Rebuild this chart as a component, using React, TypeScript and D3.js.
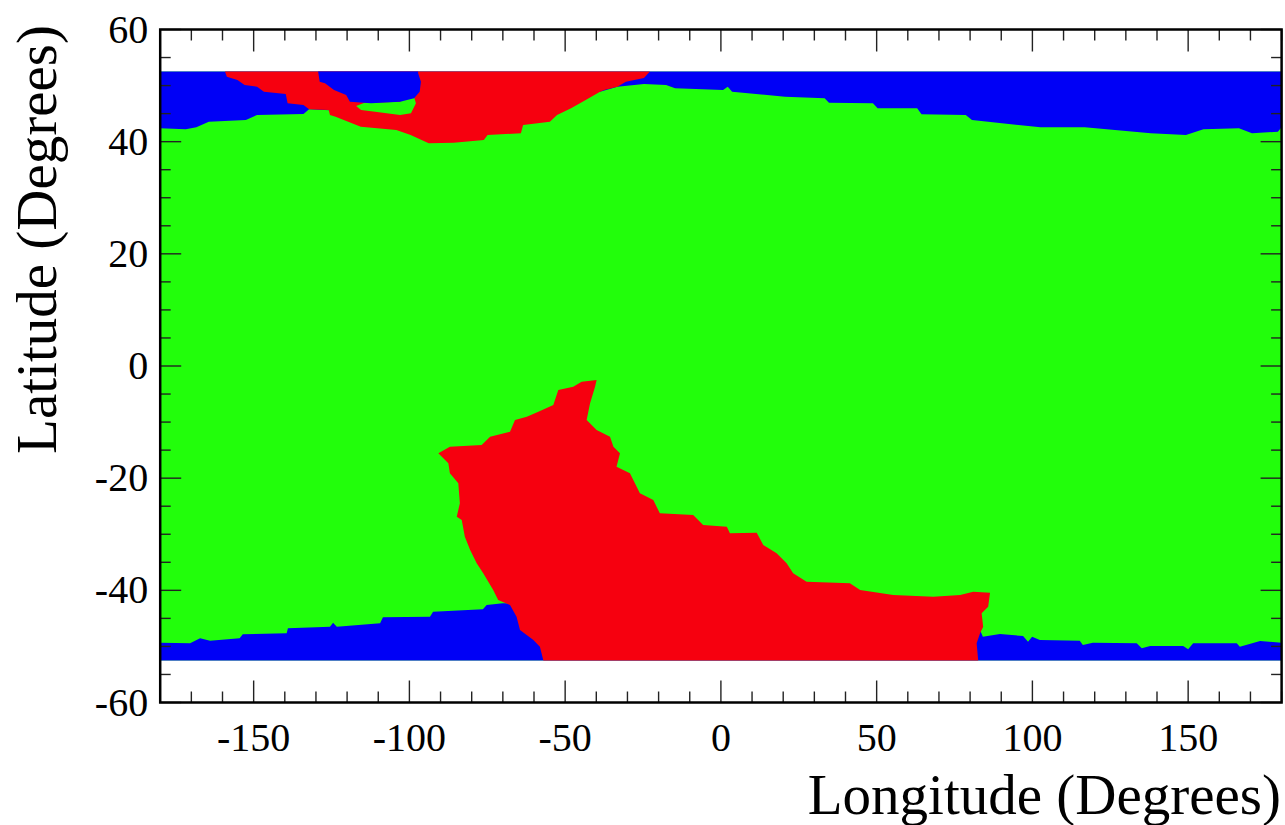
import React from "react";
import * as d3 from "d3";

type P = [number, number];

// Region boundaries (longitude, latitude in degrees)
const lonRange: P = [-180, 180];
const latRange: P = [-60, 60];
const bandLat: P = [-52.5, 52.5];

// lower edge of the northern blue band (blue above, green below)
const topBlueEdge: P[] = [
  [-180, 42.39], [-171.8, 42.21], [-168.4, 42.56], [-164.4, 43.56], [-152.5, 43.87],
  [-148.9, 44.76], [-134, 44.94], [-132.2, 45.77], [-125.5, 45.6], [-87, 47.4],
  [-38.8, 48.91], [-33.2, 49.8], [-24.7, 50.29], [-17.6, 50.11], [-14.7, 49.52],
  [0.7, 49.22], [2.2, 49.8], [3.6, 48.91], [20.6, 48.02], [33.3, 47.73],
  [34.7, 46.95], [48.8, 46.84], [50.3, 45.95], [63, 45.95], [64.4, 44.88],
  [78.6, 44.76], [80.6, 43.87], [95.5, 42.97], [102.6, 42.56], [116.8, 42.56],
  [138, 41.49], [149.3, 41.19], [154.9, 42.21], [166.3, 42.39], [170.5, 41.49],
  [178.8, 41.78], [180, 42.56],
];

// upper edge of the southern blue band (green above, blue below)
const bottomBlueEdge: P[] = [
  [-180, -49.34], [-170.4, -49.45], [-167.2, -48.56], [-164, -48.98], [-154.5, -48.56],
  [-153.5, -47.84], [-139.4, -47.66], [-139, -46.77], [-125.5, -46.49], [-124.5, -45.77],
  [-123.3, -46.49], [-109.4, -45.88], [-108.5, -44.81], [-93.4, -44.7], [-92.4, -43.81],
  [-76.4, -43.38], [-75.2, -42.62], [-70, -42.31], [-6.7, -43.5], [83.2, -47.07],
  [84.1, -48.27], [89.6, -47.79], [97, -48.15], [98.6, -49.16], [99.9, -48.27],
  [102.4, -48.86], [115.2, -48.98], [116.2, -49.75], [119.4, -49.34], [133.5, -49.45],
  [135.1, -50.34], [137.8, -49.93], [148.4, -49.93], [150, -50.52], [151.6, -49.45],
  [165.6, -49.45], [166.6, -50.05], [173.1, -49.04], [180, -49.34],
];

// northern red region outline
const northRed: P[] = [
  [-159.2, 52.5], [-22.8, 52.5], [-24.7, 51.35], [-30.5, 50.7], [-33.2, 49.8],
  [-37.5, 49.22], [-38.8, 48.91], [-43.4, 47.43], [-48.1, 45.95], [-52.6, 44.76],
  [-54.9, 43.56], [-63.5, 42.97], [-64.2, 41.49], [-74.9, 41.19], [-76.1, 40.3],
  [-85.8, 39.82], [-93.8, 39.71], [-99.6, 41.19], [-104.2, 42.08], [-115.6, 42.67],
  [-123.7, 44.45], [-125.5, 44.76], [-125.9, 45.65], [-132.2, 45.77], [-134, 46.54],
  [-139.1, 46.84], [-139.7, 48.5], [-146.7, 48.91], [-148.9, 49.8], [-152.9, 50.1],
  [-155.2, 51], [-158.6, 51.59],
];

// green pocket inside the northern red region
const northGreenPatch: P[] = [
  [-117.1, 46.36], [-114.6, 46.9], [-103, 47.1], [-100.8, 47.73], [-98.5, 47.91],
  [-97.9, 46.84], [-99.5, 45.06], [-103, 44.76], [-111, 45.35], [-115.5, 45.65],
];

// blue pocket inside the northern red region
const northBluePatch: P[] = [
  [-129.3, 52.5], [-128.8, 50.7], [-127.1, 50.41], [-124.2, 49.22], [-120.3, 48.32],
  [-119.1, 47.13], [-112.3, 46.84], [-103, 47.13], [-98.5, 47.73], [-96.7, 48.91],
  [-96.3, 50.7], [-97.2, 52.2], [-97.2, 52.5],
];

// southern red region outline
const southRed: P[] = [
  [-57, -52.5], [-58.1, -50.05], [-60.2, -48.86], [-64.5, -47.08], [-65.6, -44.7],
  [-67.7, -42.62], [-71.5, -41.73], [-73.1, -39.94], [-76.3, -36.96], [-78.4, -35.18],
  [-80.5, -32.81], [-82.2, -30.44], [-83.2, -27.46], [-84.8, -26.87], [-83.8, -24.48],
  [-84.3, -20.92], [-87, -19.13], [-87.5, -17.35], [-90.7, -15.57], [-87, -14.39],
  [-76.8, -14.09], [-74.1, -12.61], [-67.7, -11.72], [-66.1, -9.63], [-62.3, -9.04],
  [-58.6, -8.15], [-53.8, -6.95], [-52.2, -4.28], [-47.4, -3.69], [-44.7, -2.8],
  [-39.9, -2.5], [-40.4, -3.69], [-42, -6.65], [-43.1, -9.63], [-39.9, -11.41],
  [-35.6, -12.61], [-34.5, -14.39], [-32.4, -15.57], [-33.5, -17.96], [-29.2, -19.13],
  [-26, -22.7], [-21.7, -23.9], [-19.6, -26.27], [-8.9, -26.57], [-5.7, -28.35],
  [1.9, -28.66], [2.9, -29.83], [11.5, -29.73], [13.6, -31.92], [17.9, -33.4],
  [21.1, -35.18], [23.2, -36.96], [27.5, -38.46], [41.4, -38.75], [44.7, -39.94],
  [55.3, -40.83], [68.2, -41.14], [76.8, -40.83], [81, -40.25], [86.4, -40.42],
  [85.8, -42.92], [83.7, -44.1], [84.2, -46.49], [83.2, -47.66], [82.1, -49.45],
  [82.6, -52.5],
];

const xMajorTicks = [-150, -100, -50, 0, 50, 100, 150];
const yMajorTicks = [-60, -40, -20, 0, 20, 40, 60];
const xTitle = "Longitude (Degrees)";
const yTitle = "Latitude (Degrees)";

const GREEN = "#22fe0b";
const BLUE = "#0000f6";
const RED = "#f6000f";

export default function App() {
  const W = 1285, H = 825;
  const L = 160.2, R = 1281.6, T = 29.5, B = 702.5;
  const x = d3.scaleLinear().domain(lonRange).range([L, R]);
  const y = d3.scaleLinear().domain([latRange[1], latRange[0]]).range([T, B]);
  const line = d3.line<P>().x((d) => x(d[0])).y((d) => y(d[1])).curve(d3.curveLinear);
  const poly = (pts: P[]) => (line(pts) || "") + "Z";

  const topBlue: P[] = [[lonRange[0], bandLat[1]], [lonRange[1], bandLat[1]], ...topBlueEdge.slice().reverse()];
  const bottomBlue: P[] = [[lonRange[0], bandLat[0]], [lonRange[1], bandLat[0]], ...bottomBlueEdge.slice().reverse()];

  const xMinor = d3.range(-180, 181, 10).filter((v) => !xMajorTicks.includes(v));
  const yMinor = d3.range(-60, 61, 5).filter((v) => v % 20 !== 0);

  const font = "'Liberation Serif', 'Times New Roman', serif";
  const tickStroke = "#222";
  const majX = 22, minX = 11, majY = 21, minY = 10.5;

  return (
    <svg width={W} height={H} style={{ position: "absolute", left: 0, top: 0, background: "#fff" }}>
      <defs>
        <clipPath id="plotclip">
          <rect x={L} y={T} width={R - L} height={B - T} />
        </clipPath>
      </defs>
      <g clipPath="url(#plotclip)">
        <rect x={x(lonRange[0])} y={y(bandLat[1])} width={x(lonRange[1]) - x(lonRange[0])} height={y(bandLat[0]) - y(bandLat[1])} fill={GREEN} />
        <path d={poly(topBlue)} fill={BLUE} />
        <path d={poly(bottomBlue)} fill={BLUE} />
        <path d={poly(northRed)} fill={RED} />
        <path d={poly(northGreenPatch)} fill={GREEN} />
        <path d={poly(northBluePatch)} fill={BLUE} />
        <path d={poly(southRed)} fill={RED} />
      </g>
      <g stroke={tickStroke} strokeWidth={1.4}>
        {xMajorTicks.map((v) => (
          <g key={"xM" + v}>
            <line x1={x(v)} x2={x(v)} y1={B} y2={B - majX} />
            <line x1={x(v)} x2={x(v)} y1={T} y2={T + majX} />
          </g>
        ))}
        {xMinor.map((v) => (
          <g key={"xm" + v}>
            <line x1={x(v)} x2={x(v)} y1={B} y2={B - minX} />
            <line x1={x(v)} x2={x(v)} y1={T} y2={T + minX} />
          </g>
        ))}
        {yMajorTicks.map((v) => (
          <g key={"yM" + v}>
            <line x1={L} x2={L + majY} y1={y(v)} y2={y(v)} />
            <line x1={R} x2={R - majY} y1={y(v)} y2={y(v)} />
          </g>
        ))}
        {yMinor.map((v) => (
          <g key={"ym" + v}>
            <line x1={L} x2={L + minY} y1={y(v)} y2={y(v)} />
            <line x1={R} x2={R - minY} y1={y(v)} y2={y(v)} />
          </g>
        ))}
      </g>
      <rect x={L} y={T} width={R - L} height={B - T} fill="none" stroke="#000" strokeWidth={2.5} />
      <g fontFamily={font} fontSize={40} fill="#000">
        {xMajorTicks.map((v) => (
          <text key={"xl" + v} x={x(v)} y={751} textAnchor="middle">{String(v)}</text>
        ))}
        {yMajorTicks.map((v) => (
          <text key={"yl" + v} x={L - 12} y={y(v) + 13} textAnchor="end">{String(v)}</text>
        ))}
      </g>
      <text x={1281} y={814} textAnchor="end" fontFamily={font} fontSize={57} fill="#000">{xTitle}</text>
      <text transform="translate(56,25) rotate(-90)" textAnchor="end" fontFamily={font} fontSize={57} fill="#000">{yTitle}</text>
    </svg>
  );
}
